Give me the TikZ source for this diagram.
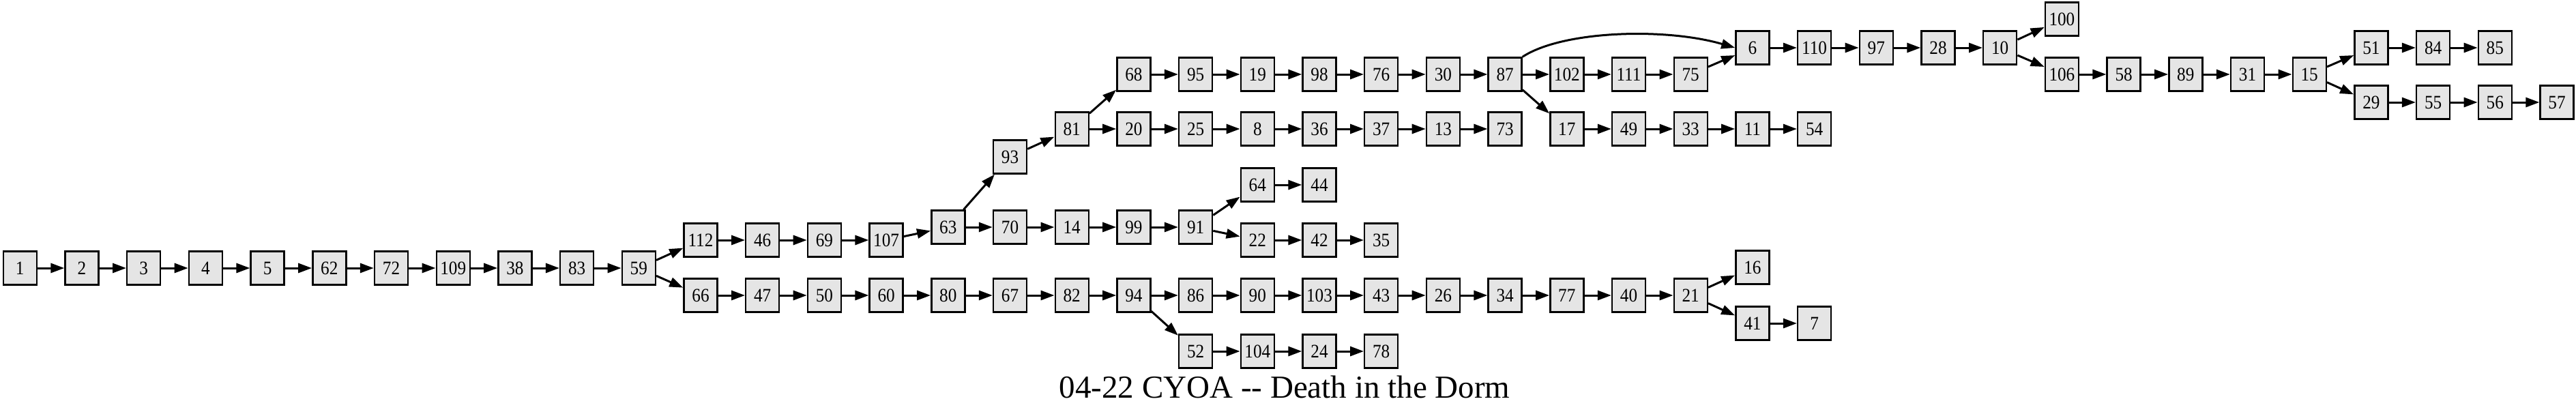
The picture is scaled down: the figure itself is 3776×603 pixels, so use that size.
\documentclass[tikz,border=0pt]{standalone}
\usepackage{fontspec}
\setmainfont{Liberation Serif}
\newfontfamily\pgfont[FakeStretch=0.9]{Liberation Serif}
\usepackage{tikz}
\usetikzlibrary{arrows.meta,positioning}

\begin{document}
\begin{tikzpicture}[
  x=1pt,y=-1pt,line width=3pt,
  pg/.style={draw=black,line width=2.4pt,fill=gray!20,inner sep=0pt,minimum width=49pt,minimum height=49pt,font=\pgfont\fontsize{28}{28}\selectfont},
  >={Triangle[length=20pt,width=14pt]},node distance=90.7pt,on grid]
\useasboundingbox (0,0) rectangle (3776,603);
% main line
\node[pg] at (29.3,393) (p1) {1};
\node[pg,right=of p1] (p2) {2};
\node[pg,right=of p2] (p3) {3};
\node[pg,right=of p3] (p4) {4};
\node[pg,right=of p4] (p5) {5};
\node[pg,right=of p5] (p62) {62};
\node[pg,right=of p62] (p72) {72};
\node[pg,right=of p72] (p109) {109};
\node[pg,right=of p109] (p38) {38};
\node[pg,right=of p38] (p83) {83};
\node[pg,right=of p83] (p59) {59};
% upper branch
\node[pg] at (1027,352) (p112) {112};
\node[pg,right=of p112] (p46) {46};
\node[pg,right=of p46] (p69) {69};
\node[pg,right=of p69] (p107) {107};
\node[pg] at (1389.8,333) (p63) {63};
\node[pg,right=of p63] (p70) {70};
\node[pg,right=of p70] (p14) {14};
\node[pg,right=of p14] (p99) {99};
\node[pg,right=of p99] (p91) {91};
\node[pg] at (1843.3,271) (p64) {64};
\node[pg,right=of p64] (p44) {44};
\node[pg] at (1843.3,352) (p22) {22};
\node[pg,right=of p22] (p42) {42};
\node[pg,right=of p42] (p35) {35};
\node[pg] at (1480.5,230) (p93) {93};
\node[pg] at (1571.2,189) (p81) {81};
\node[pg,right=of p81] (p20) {20};
\node[pg,right=of p20] (p25) {25};
\node[pg,right=of p25] (p8) {8};
\node[pg,right=of p8] (p36) {36};
\node[pg,right=of p36] (p37) {37};
\node[pg,right=of p37] (p13) {13};
\node[pg,right=of p13] (p73) {73};
\node[pg] at (1661.9,109) (p68) {68};
\node[pg,right=of p68] (p95) {95};
\node[pg,right=of p95] (p19) {19};
\node[pg,right=of p19] (p98) {98};
\node[pg,right=of p98] (p76) {76};
\node[pg,right=of p76] (p30) {30};
\node[pg,right=of p30] (p87) {87};
\node[pg,right=of p87] (p102) {102};
\node[pg,right=of p102] (p111) {111};
\node[pg,right=of p111] (p75) {75};
\node[pg] at (2296.8,189) (p17) {17};
\node[pg,right=of p17] (p49) {49};
\node[pg,right=of p49] (p33) {33};
\node[pg,right=of p33] (p11) {11};
\node[pg,right=of p11] (p54) {54};
\node[pg] at (2568.9,70) (p6) {6};
\node[pg,right=of p6] (p110) {110};
\node[pg,right=of p110] (p97) {97};
\node[pg,right=of p97] (p28) {28};
\node[pg,right=of p28] (p10) {10};
\node[pg] at (3022.4,28) (p100) {100};
\node[pg] at (3022.4,109) (p106) {106};
\node[pg,right=of p106] (p58) {58};
\node[pg,right=of p58] (p89) {89};
\node[pg,right=of p89] (p31) {31};
\node[pg,right=of p31] (p15) {15};
\node[pg] at (3475.9,70) (p51) {51};
\node[pg,right=of p51] (p84) {84};
\node[pg,right=of p84] (p85) {85};
\node[pg] at (3475.9,150) (p29) {29};
\node[pg,right=of p29] (p55) {55};
\node[pg,right=of p55] (p56) {56};
\node[pg,right=of p56] (p57) {57};
% lower branch
\node[pg] at (1027,433) (p66) {66};
\node[pg,right=of p66] (p47) {47};
\node[pg,right=of p47] (p50) {50};
\node[pg,right=of p50] (p60) {60};
\node[pg,right=of p60] (p80) {80};
\node[pg,right=of p80] (p67) {67};
\node[pg,right=of p67] (p82) {82};
\node[pg,right=of p82] (p94) {94};
\node[pg,right=of p94] (p86) {86};
\node[pg,right=of p86] (p90) {90};
\node[pg,right=of p90] (p103) {103};
\node[pg,right=of p103] (p43) {43};
\node[pg,right=of p43] (p26) {26};
\node[pg,right=of p26] (p34) {34};
\node[pg,right=of p34] (p77) {77};
\node[pg,right=of p77] (p40) {40};
\node[pg,right=of p40] (p21) {21};
\node[pg] at (2568.9,392) (p16) {16};
\node[pg] at (2568.9,474) (p41) {41};
\node[pg,right=of p41] (p7) {7};
\node[pg] at (1752.6,515) (p52) {52};
\node[pg,right=of p52] (p104) {104};
\node[pg,right=of p104] (p24) {24};
\node[pg,right=of p24] (p78) {78};
\node[anchor=base,font=\fontsize{47}{47}\selectfont] at (1883,583) (title) {04-22 CYOA -{}- Death in the Dorm};
% edges
\draw[->] (p1)--(p2); \draw[->] (p2)--(p3); \draw[->] (p3)--(p4); \draw[->] (p4)--(p5);
\draw[->] (p5)--(p62); \draw[->] (p62)--(p72); \draw[->] (p72)--(p109); \draw[->] (p109)--(p38);
\draw[->] (p38)--(p83); \draw[->] (p83)--(p59); \draw[->] (p59)--(p112); \draw[->] (p59)--(p66);
\draw[->] (p112)--(p46); \draw[->] (p46)--(p69); \draw[->] (p69)--(p107); \draw[->] (p107)--(p63);
\draw[->] (p63)--(p93); \draw[->] (p63)--(p70); \draw[->] (p93)--(p81);
\draw[->] (p81)--(p68); \draw[->] (p81)--(p20);
\draw[->] (p68)--(p95); \draw[->] (p95)--(p19); \draw[->] (p19)--(p98); \draw[->] (p98)--(p76);
\draw[->] (p76)--(p30); \draw[->] (p30)--(p87);
\draw[->] (p87.north east) .. controls (2290,45) and (2440,40) .. (p6.west);
\draw[->] (p87)--(p102); \draw[->] (p87)--(p17);
\draw[->] (p102)--(p111); \draw[->] (p111)--(p75); \draw[->] (p75)--(p6);
\draw[->] (p6)--(p110); \draw[->] (p110)--(p97); \draw[->] (p97)--(p28); \draw[->] (p28)--(p10);
\draw[->] (p10)--(p100); \draw[->] (p10)--(p106);
\draw[->] (p106)--(p58); \draw[->] (p58)--(p89); \draw[->] (p89)--(p31); \draw[->] (p31)--(p15);
\draw[->] (p15)--(p51); \draw[->] (p15)--(p29);
\draw[->] (p51)--(p84); \draw[->] (p84)--(p85);
\draw[->] (p29)--(p55); \draw[->] (p55)--(p56); \draw[->] (p56)--(p57);
\draw[->] (p20)--(p25); \draw[->] (p25)--(p8); \draw[->] (p8)--(p36); \draw[->] (p36)--(p37);
\draw[->] (p37)--(p13); \draw[->] (p13)--(p73);
\draw[->] (p17)--(p49); \draw[->] (p49)--(p33); \draw[->] (p33)--(p11); \draw[->] (p11)--(p54);
\draw[->] (p70)--(p14); \draw[->] (p14)--(p99); \draw[->] (p99)--(p91);
\draw[->] (p91)--(p64); \draw[->] (p91)--(p22); \draw[->] (p64)--(p44);
\draw[->] (p22)--(p42); \draw[->] (p42)--(p35);
\draw[->] (p66)--(p47); \draw[->] (p47)--(p50); \draw[->] (p50)--(p60); \draw[->] (p60)--(p80);
\draw[->] (p80)--(p67); \draw[->] (p67)--(p82); \draw[->] (p82)--(p94);
\draw[->] (p94)--(p86); \draw[->] (p94)--(p52);
\draw[->] (p86)--(p90); \draw[->] (p90)--(p103); \draw[->] (p103)--(p43); \draw[->] (p43)--(p26);
\draw[->] (p26)--(p34); \draw[->] (p34)--(p77); \draw[->] (p77)--(p40); \draw[->] (p40)--(p21);
\draw[->] (p21)--(p16); \draw[->] (p21)--(p41); \draw[->] (p41)--(p7);
\draw[->] (p52)--(p104); \draw[->] (p104)--(p24); \draw[->] (p24)--(p78);
\end{tikzpicture}
\end{document}
